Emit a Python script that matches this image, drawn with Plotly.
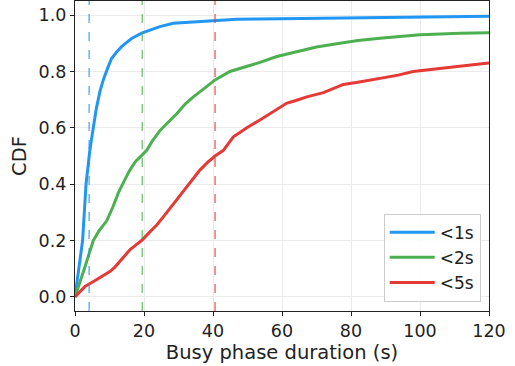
import plotly.graph_objects as go

# Data
blue_x = [0, 1.0, 2.2, 3.2, 4.3, 5.3, 6.2, 7.25, 8.2, 9.4, 10.6, 12.0, 13.5, 15.0, 16.4, 19.3, 22.0, 24.6, 28.5, 34.3, 40.6, 46.9, 53.6, 60, 70, 82.6, 100, 120]
blue_y = [0, 0.09, 0.2, 0.4, 0.52, 0.60, 0.67, 0.73, 0.77, 0.81, 0.846, 0.868, 0.888, 0.903, 0.917, 0.936, 0.948, 0.959, 0.971, 0.976, 0.98, 0.985, 0.986, 0.987, 0.988, 0.99, 0.993, 0.996]

green_x = [0, 1.5, 2.9, 4.0, 5.3, 7.0, 9.2, 11.0, 12.6, 14.2, 15.9, 17.5, 19.3, 20.8, 22.5, 24.6, 27.0, 29.5, 32.0, 34.3, 37.5, 40.6, 44.9, 49.8, 53.6, 58.5, 64.3, 70, 76.8, 82, 88.4, 94, 100, 106, 111.6, 120]
green_y = [0, 0.06, 0.107, 0.15, 0.2, 0.235, 0.27, 0.32, 0.37, 0.41, 0.45, 0.48, 0.50, 0.52, 0.555, 0.59, 0.62, 0.65, 0.685, 0.71, 0.74, 0.77, 0.80, 0.818, 0.832, 0.853, 0.871, 0.887, 0.90, 0.91, 0.918, 0.925, 0.93, 0.933, 0.936, 0.937]

red_x = [0, 1.5, 2.9, 5.0, 6.8, 8.5, 10.1, 11.5, 12.6, 14.2, 15.9, 17.5, 19.3, 21.5, 23.7, 26.0, 28.5, 30.5, 32.4, 34.3, 36.2, 38.5, 40.6, 43.0, 45.9, 48.0, 49.8, 53.6, 58.0, 61.3, 64.0, 67.2, 72.0, 77.8, 82.0, 87.4, 90.5, 93.7, 98.0, 103.9, 108, 111.6, 116, 120]
red_y = [0, 0.02, 0.037, 0.052, 0.066, 0.078, 0.09, 0.105, 0.12, 0.143, 0.167, 0.183, 0.20, 0.228, 0.255, 0.29, 0.33, 0.36, 0.39, 0.42, 0.45, 0.478, 0.50, 0.52, 0.568, 0.585, 0.60, 0.628, 0.663, 0.687, 0.697, 0.71, 0.725, 0.754, 0.762, 0.773, 0.78, 0.787, 0.80, 0.809, 0.814, 0.82, 0.825, 0.83]

series_names = ["<1s", "<2s", "<5s"]
series_colors = ["#2196F3", "#4CAF50", "#E53935"]
vline_x = [4.1, 19.5, 40.6]

x_ticks = [0, 20, 40, 60, 80, 100, 120]
y_ticks = [0.0, 0.2, 0.4, 0.6, 0.8, 1.0]

fig = go.Figure()
for xs, ys, name, col in zip([blue_x, green_x, red_x], [blue_y, green_y, red_y], series_names, series_colors):
    fig.add_trace(go.Scatter(x=xs, y=ys, mode="lines", name=name,
                             line=dict(color=col, width=3)))

for vx, col in zip(vline_x, series_colors):
    fig.add_vline(x=vx, line=dict(color=col, width=1.5, dash="dash"), opacity=0.7)

axis_common = dict(showline=True, linecolor="#222", linewidth=1.2, mirror=True,
                   ticks="outside", ticklen=4, tickcolor="#222",
                   showgrid=True, gridcolor="#ebebeb", gridwidth=1, zeroline=False,
                   tickfont=dict(size=17.5, color="#222"))

fig.update_layout(
    width=515, height=366,
    margin=dict(l=75, r=26, t=1, b=55),
    paper_bgcolor="white", plot_bgcolor="white",
    font=dict(family="DejaVu Sans", color="#222"),
    xaxis=dict(range=[0, 120], tickvals=x_ticks, title=dict(text="Busy phase duration (s)", font=dict(size=19.5), standoff=5), **axis_common),
    yaxis=dict(range=[-0.05, 1.05], tickvals=y_ticks, tickformat=".1f", title=dict(text="CDF", font=dict(size=19.5), standoff=6), **axis_common),
    legend=dict(x=0.98, y=0.03, xanchor="right", yanchor="bottom",
                bgcolor="rgba(255,255,255,0.9)", bordercolor="#ccc", borderwidth=1,
                font=dict(size=17, color="#222"), itemwidth=45),
    showlegend=True,
)

fig.write_html("out.html")
